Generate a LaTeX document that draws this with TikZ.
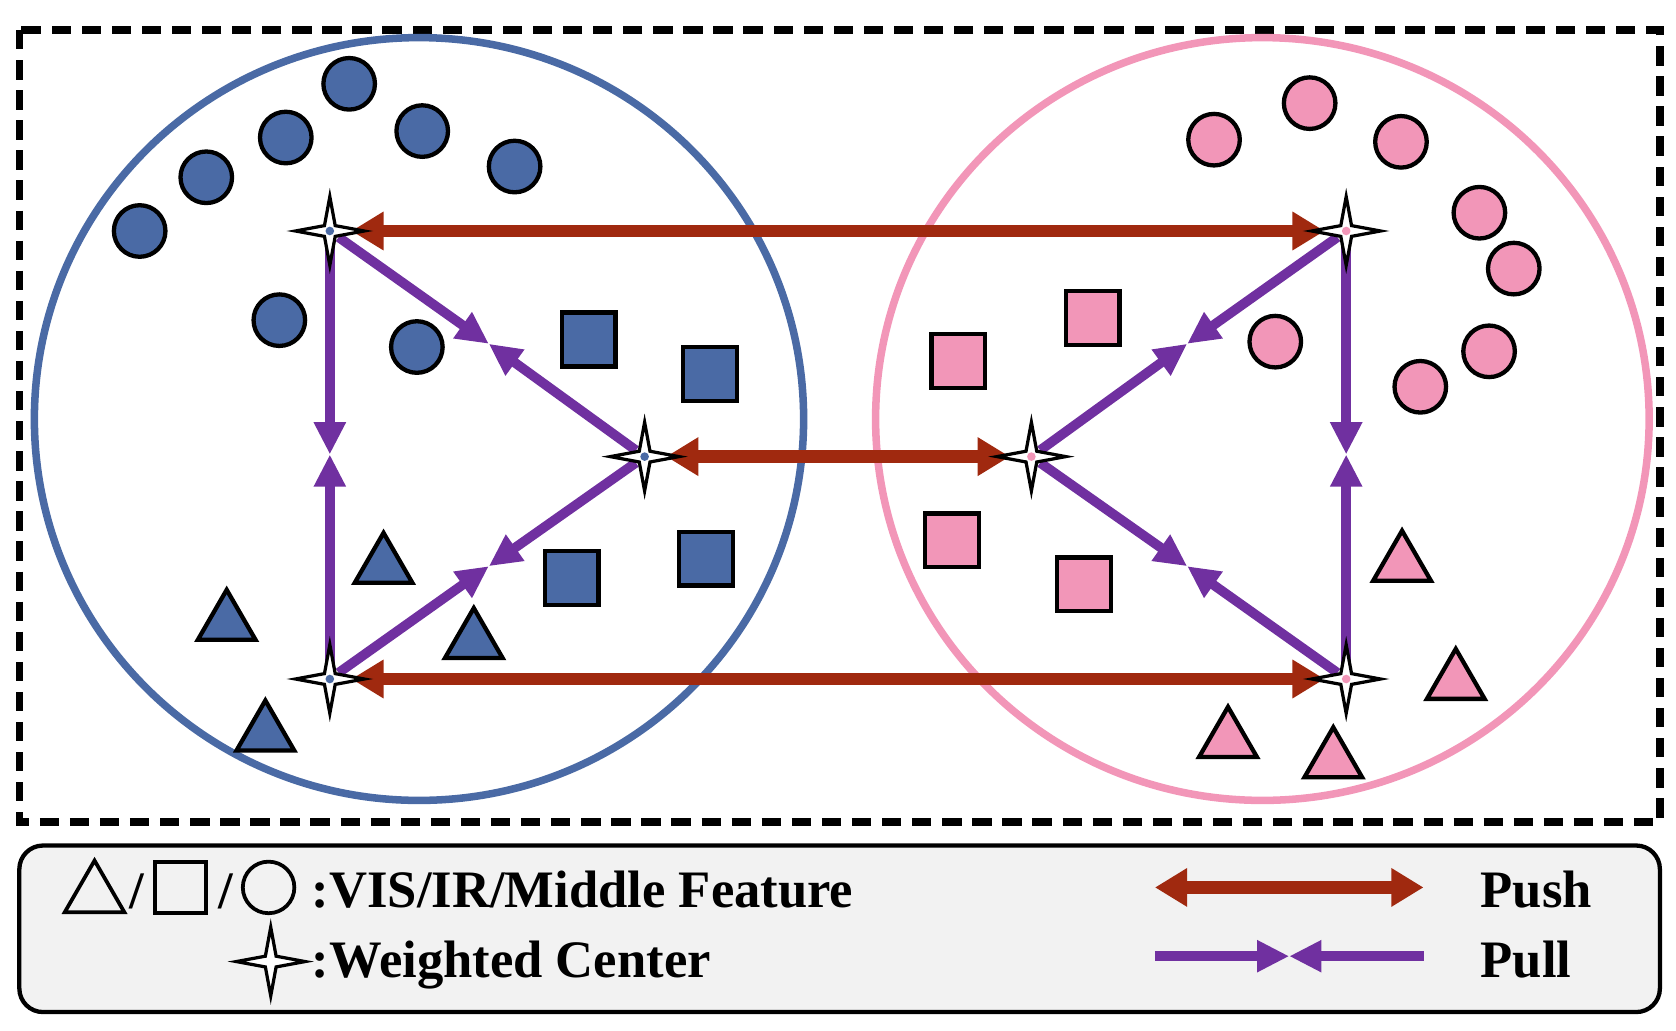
\documentclass[tikz,border=0pt]{standalone}
\usepackage{fontspec}
\setmainfont{Liberation Serif}
\usetikzlibrary{arrows.meta,shapes.geometric}
\definecolor{bl}{HTML}{4A6AA5}
\definecolor{pk}{HTML}{F296B8}
\definecolor{pushc}{HTML}{A0290F}
\definecolor{pullc}{HTML}{7030A0}
\begin{document}
\begin{tikzpicture}[x=1pt,y=-1pt,
  dot/.style={circle,draw=black,line width=4pt,minimum size=48pt,inner sep=0pt},
  sq/.style={rectangle,draw=black,line width=4pt,minimum size=50pt,inner sep=0pt},
  tri/.style={regular polygon,regular polygon sides=3,draw=black,line width=4pt,minimum size=62pt,inner sep=0pt},
  push/.style={pushc,line width=12pt,{Triangle[length=30pt,width=34pt]}-{Triangle[length=30pt,width=34pt]},shorten <=20pt,shorten >=20pt},
  pull/.style={pullc,line width=9pt,-{Triangle[length=30pt,width=28pt]},shorten <=10pt},
  ft/.style={font=\fontsize{49}{56}\selectfont\bfseries,inner sep=0pt,anchor=west}
]
\useasboundingbox (0,0) rectangle (1560,959);
\newcommand\mystar[3]{%
  \coordinate (#1) at (#2);
  \fill[white] (#2) ++(0,-30) -- ++(5,25) -- ++(25,5) -- ++(-25,5) -- ++(-5,25) -- ++(-5,-25) -- ++(-25,-5) -- ++(25,-5) -- cycle;
  \draw[black,line width=3pt,line join=miter] (#2) ++(0,-32) -- ++(5,27) -- ++(27,5) -- ++(-27,5) -- ++(-5,27) -- ++(-5,-27) -- ++(-27,-5) -- ++(27,-5) -- cycle;
  \fill[#3] (#2) circle (4pt);}
% frame
\draw[line width=7pt,dash pattern=on 18pt off 10pt] (18,28) rectangle (1545,765);
\draw[bl,line width=7pt] (390,390) ellipse [x radius=358, y radius=355];
\draw[pk,line width=7pt] (1175,390) ellipse [x radius=360, y radius=355];
% items
\foreach \p in {(130,215),(192,165),(266,128),(325,78),(393,122),(479,155),(260,298),(388,323)} \node[dot,fill=bl] at \p {};
\foreach \p in {(548,316),(661,348),(532,538),(657,520)} \node[sq,fill=bl] at \p {};
\foreach \p in {(357,527),(211,580),(441,597),(247,683)} \node[tri,fill=bl] at \p {};
\foreach \p in {(1130,130),(1219,96),(1304,132),(1377,198),(1409,250),(1187,318),(1386,327),(1322,360)} \node[dot,fill=pk] at \p {};
\foreach \p in {(1017,296),(892,336),(886,503),(1009,544)} \node[sq,fill=pk] at \p {};
\foreach \p in {(1305,525),(1355,635),(1143,689),(1241,708)} \node[tri,fill=pk] at \p {};
% centers
\coordinate (bt) at (307,215); \coordinate (bc) at (600,425); \coordinate (bb) at (307,632);
\coordinate (pt) at (1253,215); \coordinate (pc) at (960,425); \coordinate (pb) at (1253,632);
% pull arrows
\coordinate (m1) at (455,320); \coordinate (m2) at (307,423); \coordinate (m3) at (455,527);
\coordinate (n1) at (1105,320); \coordinate (n2) at (1253,423); \coordinate (n3) at (1105,527);
\foreach \a/\m in {bt/m1,bc/m1,bt/m2,bb/m2,bc/m3,bb/m3,pt/n1,pc/n1,pt/n2,pb/n2,pc/n3,pb/n3}
  \draw[pull] (\a) -- (\m);
% push arrows
\draw[push] (bt) -- (pt);
\draw[push] (bc) -- (pc);
\draw[push] (bb) -- (pb);
\mystar{s1}{307,215}{bl}\mystar{s2}{600,425}{bl}\mystar{s3}{307,632}{bl}
\mystar{s4}{1253,215}{pk}\mystar{s5}{960,425}{pk}\mystar{s6}{1253,632}{pk}
% legend
\draw[line width=4pt,fill=black!5,rounded corners=22pt] (18,787) rectangle (1545,942);
\node[regular polygon,regular polygon sides=3,draw=black,line width=3.5pt,minimum size=64pt,inner sep=0pt] (lt) at (88,833) {};
\node[ft] (sl1) at (120,830) {/};
\node[rectangle,draw=black,line width=3.5pt,minimum size=48pt,inner sep=0pt] (ls) at (168,826) {};
\node[ft] (sl2) at (203,830) {/};
\node[circle,draw=black,line width=3.5pt,minimum size=48pt,inner sep=0pt] (lc) at (250,826) {};
\node[ft] (t1) at (290,828) {:VIS/IR/Middle Feature};
\mystar{ls2}{252,895}{white}
\node[ft] (t2) at (290,898) {:Weighted Center};
\coordinate (pa) at (1055,826); \coordinate (pb2) at (1345,826);
\draw[push] (pa) -- (pb2);
\node[ft] (t3) at (1378,828) {Push};
\coordinate (qa) at (1075,890); \coordinate (qm) at (1200,890); \coordinate (qb) at (1325,890);
\draw[pull,shorten <=0pt] (qa) -- (qm); \draw[pull,shorten <=0pt] (qb) -- (qm);
\node[ft] (t4) at (1378,893) {Pull};
\end{tikzpicture}
\end{document}
